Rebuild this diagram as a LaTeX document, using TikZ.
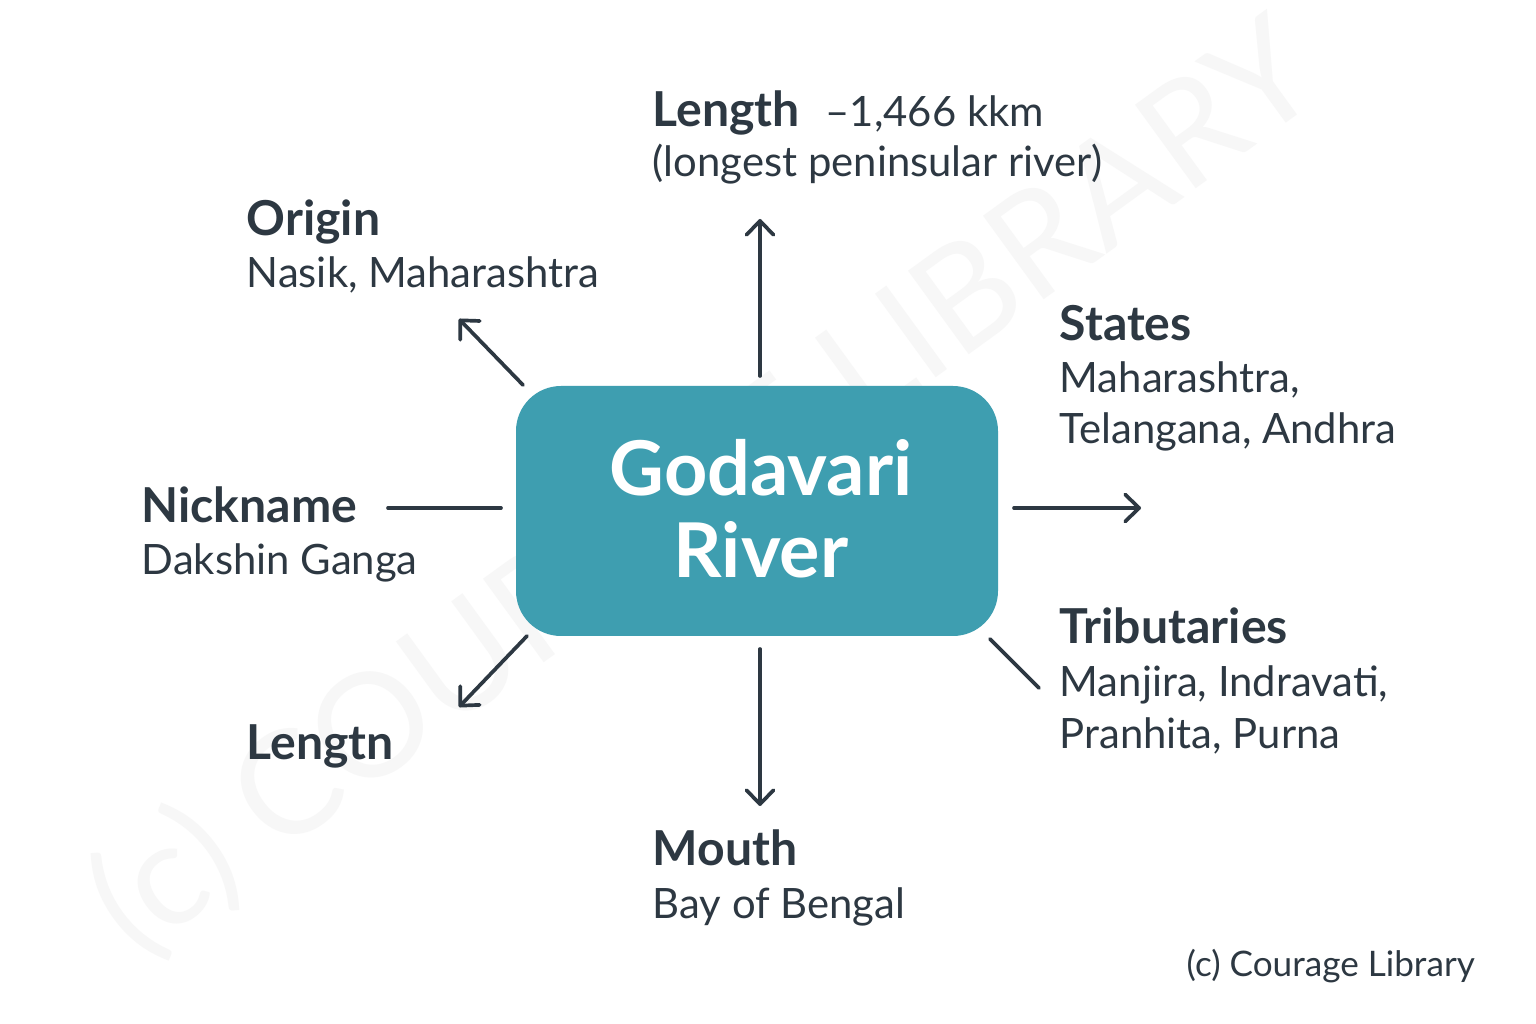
\documentclass[tikz,border=0pt]{standalone}
\usepackage{fontspec}
\setmainfont{Lato}
\usetikzlibrary{arrows.meta}
\definecolor{inkgray}{RGB}{45,56,66}
\definecolor{riverteal}{RGB}{62,158,176}
\begin{document}
\begin{tikzpicture}[x=0.1mm,y=-0.1mm,
  head/.style={anchor=base west,inner sep=0pt,text=inkgray,font=\fontsize{13.7}{15}\selectfont\bfseries},
  info/.style={anchor=base west,inner sep=0pt,text=inkgray,font=\fontsize{11.9}{14}\selectfont},
  link/.style={draw=inkgray,line width=1.05pt,line cap=round},
  tip/.style={link,-{Straight Barb[length=1.4mm,width=2.7mm,line cap=round,line join=round]}}]

  \useasboundingbox[fill=white] (0,0) rectangle (1536,1024);

  % watermark
  \node[rotate=36,text=black!3,font=\fontsize{41}{41}\selectfont] (mark) at (705,490) {(c) COURAGE LIBRARY};

  % Specification of nodes (position, etc.)
  \node[draw=none,fill=riverteal,rounded corners=4.5mm,minimum width=48.2mm,minimum height=25mm] (river) at (757,511) {};
  \node[text=white,font=\fontsize{21.5}{21.5}\selectfont\bfseries,anchor=base,inner sep=0pt] (god) at (761,496) {Godavari};
  \node[text=white,font=\fontsize{21.5}{21.5}\selectfont\bfseries,anchor=base,inner sep=0pt] (riv) at (761,578) {River};

  \node[head] (lenA) at (652,127) {Length};
  \node[info] (lenB) at (825,127) {–1,466 kkm};
  \node[info] (lenC) at (652,177) {(longest peninsular river)};

  \node[head] (oriA) at (246,236) {Origin};
  \node[info] (oriB) at (246,288) {Nasik, Maharashtra};

  \node[head] (staA) at (1059,341) {States};
  \node[info] (staB) at (1059,393) {Maharashtra,};
  \node[info] (staC) at (1059,444) {Telangana, Andhra};

  \node[head] (nicA) at (141,523) {Nickname};
  \node[info] (nicB) at (141,574) {Dakshin Ganga};

  \node[head] (triA) at (1059,644) {Tributaries};
  \node[info] (triB) at (1059,697) {Manjira, Indravati,};
  \node[info] (triC) at (1059,748) {Pranhita, Purna};

  \node[head] (lenD) at (246,759) {Lengtn};

  \node[head] (mouA) at (652,866) {Mouth};
  \node[info] (mouB) at (652,918) {Bay of Bengal};

  \node[info,font=\fontsize{10}{12}\selectfont] (copy) at (1186,977) {(c) Courage Library};

  % connector ends
  \coordinate (upS) at (760,376);   \coordinate (upE) at (760,219);
  \coordinate (nwS) at (523,385);   \coordinate (nwE) at (459,319);
  \coordinate (wS) at (501,508);    \coordinate (wE) at (388,508);
  \coordinate (eS) at (1014,508);   \coordinate (eE) at (1141,508);
  \coordinate (seS) at (990,639);   \coordinate (seE) at (1039,688);
  \coordinate (dnS) at (760,649);   \coordinate (dnE) at (760,806);
  \coordinate (swS) at (527,636);   \coordinate (swE) at (459,707);

  \begin{scope}
    \draw[tip] (upS) to (upE);
    \draw[tip] (nwS) to (nwE);
    \draw[link] (wS) to (wE);
    \draw[tip] (eS) to (eE);
    \draw[link] (seS) to (seE);
    \draw[tip] (dnS) to (dnE);
    \draw[tip] (swS) to (swE);
  \end{scope}

\end{tikzpicture}
\end{document}
